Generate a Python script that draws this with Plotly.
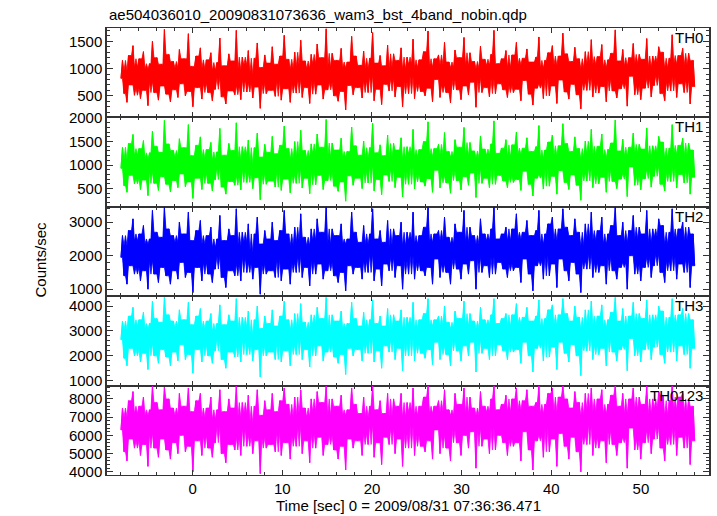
import numpy as np
import plotly.graph_objects as go
from plotly.subplots import make_subplots

t_start, t_end = -8.0, 56.0

th0 = [820, 1150, 540, 960, 380, 1240, 700, 890, 1420, 510, 1030, 640, 1180, 450, 870, 1310, 600, 990, 320, 1090,
       760, 1500, 560, 940, 1200, 420, 830, 1080, 680, 1720, 530, 910, 1260, 390, 780, 1130, 610, 1010, 470, 1350,
       720, 950, 1180, 500, 870, 1640, 580, 1040, 300, 920, 1230, 650, 810, 1380, 440, 1000, 730, 1160, 560, 880,
       1290, 410, 970, 620, 1110, 840, 1560, 480, 760, 1050, 350, 930, 1270, 590, 850, 1140, 520, 1700, 690, 980,
       430, 1210, 800, 1060, 570, 1330, 740, 900, 460, 1190, 660, 1470, 820, 270, 1020, 730, 1250, 540, 960, 1100,
       600, 1400, 870, 490, 1080, 780, 1230, 420, 950, 1610, 630, 860, 1170, 380, 990, 720, 1300, 550, 1040, 810,
       1520, 470, 910, 1140, 650, 1000, 360, 1260, 770, 1090, 530, 1450, 700, 930, 1200, 440, 860, 1730, 610, 1020,
       750, 1280, 500, 960, 1150, 400, 830, 1370, 580, 1010, 240, 1120, 690, 900, 1590, 520, 970, 1230, 650, 840,
       1060, 460, 1320, 780, 1000, 560, 1190, 880, 1660, 410, 940, 1100, 620, 1240, 340, 890, 1050, 710, 1430, 590,
       1010, 820, 1270, 480, 920, 1150, 670, 1380, 300, 990, 760, 1210, 540, 1080, 850, 1540, 450, 1020, 720, 1160,
       580, 930, 1310, 500, 870, 1690, 640, 1030, 390, 1180, 800, 960, 1250, 470, 1070, 700, 1480, 560, 910, 1120,
       370, 1020, 790, 1340, 610, 980, 1200, 430, 880, 1570, 680, 1050, 520, 1290, 750, 940, 1130, 290, 1000, 830,
       1410, 560, 970, 1170, 650, 1060, 480, 1260, 810, 1700, 540, 920, 1090, 720, 1180, 610,
       880, 1330, 470, 1020, 690, 1250, 560, 940, 1480, 620, 1070, 410, 1190, 780, 990, 1360, 530, 860, 1120, 330,
       950, 1210, 640, 1580, 720, 1010, 450, 1150, 830, 1290, 500, 970, 1420, 680, 1060, 360, 1230, 790, 920, 1650,
       570, 1040, 1270, 440, 880, 1130, 710, 1390, 520, 960, 1180, 260, 1000, 760, 1310, 600, 1090, 850, 1530, 480,
       1070, 740, 1220, 550, 930, 1440, 670, 1020, 390, 1160, 810, 1280, 590, 1000, 1710, 460, 890, 1140, 630, 1350,
       740, 1050, 310, 1200, 860, 980, 1460, 520, 1090, 700, 1260, 430, 950, 1170, 640, 1550, 820, 1030, 480, 1230,
       690, 1110, 880, 1400, 540, 970, 1300, 410, 1010, 760, 1190, 590, 1620, 850, 1080, 470, 1240, 720, 940, 1370,
       560, 1060, 800, 1280, 350, 990, 1150, 670]

th1 = [930, 1380, 560, 1120, 420, 1460, 780, 1040, 1650, 600, 1210, 720, 1350, 480, 990, 1520, 680, 1130, 350, 1260,
       860, 1720, 610, 1080, 1400, 460, 940, 1270, 750, 1950, 590, 1030, 1450, 430, 880, 1310, 670, 1170, 520, 1560,
       810, 1090, 1370, 540, 990, 1860, 640, 1200, 290, 1050, 1420, 720, 920, 1600, 480, 1150, 820, 1330, 610, 1000,
       1480, 450, 1110, 690, 1280, 950, 1780, 530, 860, 1210, 380, 1060, 1460, 650, 970, 1310, 570, 1900, 770, 1120,
       470, 1390, 900, 1220, 630, 1530, 830, 1030, 500, 1370, 730, 1680, 930, 260, 1170, 820, 1440, 590, 1100, 1270,
       660, 1610, 990, 530, 1240, 870, 1420, 460, 1080, 1830, 700, 980, 1350, 410, 1130, 800, 1500, 610, 1190, 920,
       1740, 510, 1040, 1310, 720, 1150, 390, 1450, 860, 1250, 580, 1660, 780, 1060, 1380, 480, 980, 1970, 670, 1170,
       840, 1470, 550, 1100, 1320, 440, 940, 1570, 640, 1160, 230, 1290, 770, 1030, 1810, 570, 1110, 1410, 720, 960,
       1210, 500, 1510, 870, 1150, 620, 1370, 1000, 1890, 450, 1080, 1260, 690, 1430, 370, 1010, 1200, 790, 1640, 650,
       1160, 920, 1460, 520, 1050, 1320, 740, 1580, 320, 1130, 850, 1390, 590, 1240, 960, 1760, 490, 1170, 800, 1330,
       640, 1060, 1500, 550, 990, 1920, 710, 1180, 420, 1350, 890, 1100, 1440, 510, 1230, 780, 1690, 620, 1040, 1290,
       400, 1170, 880, 1540, 670, 1120, 1380, 470, 1000, 1800, 750, 1200, 570, 1480, 830, 1070, 1300, 310, 1150, 930,
       1620, 610, 1110, 1340, 720, 1210, 520, 1450, 900, 1940, 590, 1050, 1250, 780, 1360, 660,
       1010, 1540, 520, 1170, 760, 1430, 630, 1080, 1700, 690, 1230, 460, 1360, 870, 1120, 1580, 590, 980, 1290, 340,
       1080, 1390, 720, 1840, 800, 1140, 490, 1320, 930, 1490, 550, 1100, 1640, 760, 1210, 380, 1410, 880, 1050, 1880,
       630, 1190, 1460, 480, 1000, 1290, 790, 1600, 570, 1090, 1350, 250, 1140, 840, 1510, 660, 1240, 950, 1760, 520,
       1220, 820, 1400, 600, 1060, 1660, 740, 1160, 420, 1330, 900, 1470, 650, 1140, 1960, 500, 1010, 1300, 700, 1550,
       820, 1200, 330, 1380, 960, 1110, 1680, 570, 1250, 780, 1440, 470, 1080, 1340, 710, 1790, 910, 1180, 530, 1410,
       760, 1270, 990, 1610, 590, 1100, 1490, 450, 1150, 840, 1360, 650, 1860, 950, 1230, 510, 1420, 800, 1070, 1570,
       620, 1210, 890, 1470, 380, 1130, 1320, 740]

th2 = [1950, 2600, 1400, 2300, 1150, 2750, 1700, 2150, 3100, 1450, 2450, 1650, 2650, 1250, 2050, 2900, 1550, 2350, 1000, 2500,
       1850, 3350, 1450, 2200, 2700, 1200, 2000, 2550, 1650, 3450, 1400, 2150, 2800, 1150, 1900, 2600, 1550, 2400, 1300, 3000,
       1800, 2250, 2650, 1350, 2050, 3300, 1500, 2450, 900, 2150, 2750, 1650, 1950, 3050, 1250, 2350, 1800, 2600, 1450, 2100,
       2850, 1200, 2250, 1600, 2500, 2000, 3200, 1350, 1850, 2450, 1050, 2200, 2800, 1550, 2000, 2600, 1400, 3400, 1750, 2300,
       1250, 2700, 1950, 2400, 1500, 2950, 1800, 2100, 1300, 2650, 1650, 3150, 1950, 850, 2350, 1750, 2750, 1450, 2250, 2500,
       1550, 3000, 2050, 1350, 2450, 1900, 2750, 1250, 2200, 3350, 1600, 2050, 2650, 1150, 2300, 1800, 2850, 1500, 2400, 2000,
       3250, 1350, 2150, 2550, 1650, 2300, 1100, 2800, 1850, 2450, 1450, 3100, 1750, 2200, 2700, 1300, 2050, 3450, 1550, 2350,
       1800, 2800, 1400, 2250, 2600, 1200, 1950, 2950, 1500, 2350, 950, 2500, 1700, 2150, 3300, 1450, 2250, 2700, 1650, 2000,
       2400, 1300, 2900, 1850, 2350, 1500, 2650, 2050, 3400, 1250, 2200, 2500, 1600, 2750, 1100, 2100, 2400, 1750, 3050, 1550,
       2300, 1950, 2800, 1350, 2150, 2600, 1700, 3000, 1000, 2300, 1850, 2700, 1450, 2450, 2000, 3300, 1300, 2350, 1800, 2600,
       1550, 2150, 2850, 1400, 2050, 3450, 1650, 2400, 1150, 2650, 1900, 2250, 2750, 1350, 2450, 1750, 3150, 1500, 2150, 2550,
       1150, 2350, 1900, 2950, 1600, 2300, 2700, 1300, 2050, 3350, 1750, 2400, 1450, 2850, 1850, 2200, 2600, 1000, 2350, 1950,
       3100, 1500, 2250, 2650, 1700, 2450, 1350, 2800, 1950, 3450, 1450, 2150, 2500, 1800, 2650, 1600,
       2050, 2850, 1350, 2450, 1750, 2800, 1550, 2200, 3250, 1650, 2500, 1200, 2700, 1900, 2300, 3050, 1450, 2100, 2600, 950,
       2200, 2750, 1700, 3350, 1850, 2350, 1300, 2650, 2000, 2950, 1400, 2250, 3150, 1750, 2450, 1050, 2800, 1900, 2150, 3400,
       1550, 2400, 2850, 1250, 2100, 2600, 1800, 3100, 1450, 2250, 2700, 900, 2300, 1850, 2950, 1600, 2500, 2050, 3300, 1350,
       2450, 1800, 2750, 1500, 2200, 3150, 1700, 2350, 1150, 2650, 1950, 2900, 1550, 2300, 3450, 1300, 2100, 2600, 1650, 3000,
       1800, 2400, 1000, 2750, 2000, 2250, 3200, 1450, 2500, 1750, 2850, 1250, 2200, 2650, 1650, 3350, 1950, 2400, 1350, 2800,
       1700, 2550, 2050, 3100, 1500, 2250, 2900, 1200, 2350, 1850, 2700, 1550, 3400, 2000, 2500, 1300, 2800, 1750, 2200, 3000,
       1500, 2450, 1900, 2850, 1050, 2300, 2650, 1700]

th3 = [2650, 3400, 1900, 3050, 1600, 3600, 2300, 2850, 3950, 2000, 3200, 2250, 3450, 1750, 2750, 3750, 2100, 3100, 1450, 3300,
       2500, 4200, 2000, 2950, 3500, 1700, 2700, 3350, 2250, 4350, 1950, 2900, 3650, 1600, 2600, 3400, 2150, 3150, 1800, 3850,
       2450, 3000, 3450, 1850, 2800, 4150, 2050, 3250, 1300, 2900, 3600, 2250, 2650, 3900, 1750, 3100, 2450, 3400, 2000, 2850,
       3700, 1700, 3000, 2200, 3300, 2700, 4050, 1850, 2500, 3250, 1500, 2950, 3650, 2150, 2700, 3400, 1950, 4300, 2400, 3050,
       1750, 3550, 2650, 3150, 2050, 3800, 2450, 2850, 1800, 3450, 2250, 4000, 2650, 1150, 3100, 2400, 3600, 2000, 3000, 3300,
       2150, 3850, 2750, 1850, 3200, 2550, 3600, 1750, 2950, 4200, 2200, 2750, 3450, 1600, 3050, 2450, 3700, 2050, 3150, 2700,
       4100, 1850, 2900, 3350, 2250, 3050, 1550, 3650, 2500, 3250, 2000, 3950, 2400, 2950, 3500, 1800, 2750, 4350, 2150, 3100,
       2450, 3650, 1950, 3000, 3400, 1700, 2650, 3800, 2050, 3100, 1250, 3300, 2300, 2900, 4150, 2000, 3000, 3500, 2250, 2700,
       3200, 1800, 3750, 2500, 3100, 2100, 3450, 2750, 4250, 1750, 2950, 3300, 2200, 3600, 1500, 2800, 3200, 2400, 3900, 2150,
       3050, 2650, 3650, 1850, 2900, 3400, 2300, 3850, 1400, 3050, 2500, 3550, 2000, 3250, 2700, 4150, 1800, 3100, 2450, 3450,
       2100, 2900, 3700, 1900, 2750, 4300, 2250, 3200, 1650, 3450, 2550, 3000, 3600, 1850, 3250, 2400, 4000, 2050, 2900, 3350,
       1600, 3100, 2600, 3800, 2200, 3050, 3500, 1800, 2800, 4200, 2400, 3200, 2000, 3700, 2550, 2950, 3400, 1350, 3100, 2650,
       3950, 2100, 3000, 3450, 2300, 3250, 1850, 3650, 2650, 4300, 2000, 2900, 3300, 2450, 3500, 2200,
       2750, 3700, 1850, 3200, 2400, 3650, 2150, 2950, 4100, 2250, 3300, 1700, 3550, 2550, 3050, 3950, 2000, 2850, 3400, 1350,
       2950, 3600, 2300, 4250, 2500, 3150, 1800, 3500, 2700, 3850, 1950, 3000, 4050, 2350, 3250, 1450, 3650, 2550, 2900, 4300,
       2100, 3150, 3700, 1750, 2850, 3400, 2450, 4000, 2000, 3000, 3550, 1200, 3100, 2500, 3850, 2200, 3300, 2750, 4200, 1850,
       3250, 2450, 3600, 2050, 2950, 4050, 2300, 3150, 1600, 3450, 2650, 3750, 2150, 3050, 4350, 1800, 2850, 3400, 2250, 3900,
       2450, 3200, 1400, 3600, 2700, 3000, 4150, 2000, 3300, 2400, 3700, 1750, 2950, 3500, 2250, 4250, 2650, 3200, 1850, 3650,
       2350, 3350, 2750, 4000, 2050, 3000, 3800, 1700, 3100, 2500, 3550, 2150, 4300, 2700, 3300, 1800, 3650, 2400, 2950, 3900,
       2050, 3250, 2600, 3700, 1500, 3050, 3450, 2300]

th0123 = [6300, 7500, 5100, 7000, 4600, 7900, 5800, 6700, 8400, 5300, 7200, 5700, 7600, 4900, 6500, 8100, 5500, 7100, 4300, 7400,
          6100, 8700, 5300, 6800, 7800, 4800, 6400, 7400, 5800, 8650, 5200, 6800, 8000, 4700, 6200, 7500, 5600, 7100, 5000, 8300,
          6000, 6900, 7600, 5100, 6600, 8600, 5400, 7300, 4000, 6800, 7900, 5700, 6400, 8300, 4900, 7000, 6000, 7500, 5300, 6700,
          8100, 4800, 6900, 5600, 7400, 6500, 8500, 5000, 6100, 7300, 4500, 6800, 8000, 5500, 6500, 7500, 5200, 8700, 5900, 7000,
          4900, 7800, 6400, 7200, 5400, 8200, 6000, 6700, 5000, 7600, 5700, 8500, 6400, 3900, 7100, 5900, 7900, 5300, 6900, 7400,
          5500, 8300, 6600, 5100, 7300, 6200, 7900, 4900, 6900, 8600, 5600, 6600, 7700, 4700, 7000, 6000, 8100, 5400, 7100, 6500,
          8500, 5000, 6800, 7500, 5700, 7000, 4500, 8000, 6100, 7300, 5300, 8400, 5900, 6800, 7800, 4900, 6600, 8700, 5500, 7100,
          6000, 8000, 5200, 6900, 7600, 4700, 6400, 8200, 5400, 7100, 4100, 7400, 5800, 6800, 8600, 5300, 6900, 7700, 5700, 6500,
          7200, 4900, 8100, 6100, 7000, 5500, 7600, 6600, 8700, 4800, 6800, 7400, 5600, 7900, 4400, 6700, 7200, 5900, 8300, 5500,
          7000, 6400, 8000, 5000, 6800, 7600, 5800, 8300, 4300, 7000, 6100, 7800, 5300, 7300, 6500, 8600, 4900, 7100, 6000, 7600,
          5400, 6900, 8100, 5100, 6600, 8700, 5700, 7200, 4700, 7600, 6300, 6900, 7900, 5000, 7300, 6000, 8500, 5300, 6800, 7400,
          4600, 7100, 6300, 8300, 5600, 7000, 7700, 4900, 6700, 8600, 6000, 7200, 5300, 8100, 6200, 6800, 7500, 4200, 7100, 6400,
          8400, 5400, 6900, 7600, 5800, 7300, 5000, 8000, 6400, 8700, 5200, 6800, 7400, 6000, 7700, 5600,
          6500, 8200, 4900, 7300, 5800, 8000, 5400, 6900, 8600, 5600, 7400, 4600, 7900, 6200, 7000, 8500, 5200, 6700, 7600, 4100,
          6900, 7800, 5700, 8700, 6000, 7200, 4800, 7700, 6400, 8300, 5100, 7000, 8600, 5800, 7300, 4300, 8100, 6100, 6800, 8700,
          5400, 7200, 8000, 4700, 6700, 7500, 5900, 8400, 5100, 6900, 7800, 4000, 7100, 6000, 8300, 5500, 7400, 6600, 8600, 4900,
          7300, 5900, 8000, 5300, 6900, 8500, 5700, 7200, 4500, 7700, 6300, 8200, 5500, 7100, 8700, 4900, 6700, 7600, 5600, 8300,
          5900, 7200, 4200, 8000, 6400, 6900, 8600, 5200, 7400, 5800, 8100, 4700, 6900, 7700, 5600, 8700, 6300, 7200, 5000, 8000,
          5800, 7500, 6500, 8400, 5300, 7000, 8200, 4600, 7100, 6000, 7900, 5500, 8700, 6400, 7400, 4900, 8100, 5900, 6800, 8300,
          5300, 7300, 6200, 8000, 4400, 7000, 7600, 5700]

names = ["TH0", "TH1", "TH2", "TH3", "TH0123"]
series = [th0, th1, th2, th3, th0123]
colors = ["#ff0000", "#00ff00", "#0000ff", "#00ffff", "#ff00ff"]
y_ranges = [[103, 1745], [110, 2015], [790, 3460], [800, 4400], [3825, 8730]]
y_dticks = [500, 500, 1000, 1000, 1000]
y_minor = [100, 100, 200, 200, 200]

FONT = "Liberation Sans, Arial, Helvetica, sans-serif"
AX = "#333333"

fig = make_subplots(rows=5, cols=1, shared_xaxes=True, vertical_spacing=0)


def shifted(a, s):
    # a shifted by s bins, edges padded with the end values
    if s > 0:
        return np.concatenate([np.repeat(a[:1], s), a[:-s]])
    return np.concatenate([a[-s:], np.repeat(a[-1:], -s)])


for i, (name, vals, col) in enumerate(zip(names, series, colors)):
    v = np.asarray(vals, dtype=float)
    t = np.linspace(t_start, t_end, len(v))
    # shade the dense band the light curve sweeps through: the upper edge is raised to the lower of
    # the highest bins just left / just right (a closing), the lower edge mirrored; isolated spikes stay thin
    left_hi = np.maximum(shifted(v, 1), shifted(v, 2))
    right_hi = np.maximum(shifted(v, -1), shifted(v, -2))
    left_lo = np.minimum(shifted(v, 1), shifted(v, 2))
    right_lo = np.minimum(shifted(v, -1), shifted(v, -2))
    upper = np.maximum(v, np.minimum(left_hi, right_hi))
    lower = np.minimum(v, np.maximum(left_lo, right_lo))
    fig.add_trace(go.Scatter(x=t, y=upper, mode="lines",
                             line=dict(color=col, width=0.8, simplify=False),
                             showlegend=False, hoverinfo="skip"), row=i + 1, col=1)
    fig.add_trace(go.Scatter(x=t, y=lower, mode="lines", fill="tonexty", fillcolor=col,
                             line=dict(color=col, width=0.8, simplify=False),
                             showlegend=False, hoverinfo="skip"), row=i + 1, col=1)
    fig.add_trace(go.Scatter(x=t, y=v, mode="lines",
                             line=dict(color=col, width=1, simplify=False),
                             showlegend=False, hoverinfo="skip"), row=i + 1, col=1)
    fig.update_yaxes(range=y_ranges[i], dtick=y_dticks[i], tick0=0, ticks="inside", ticklen=6,
                     mirror="ticks", showline=True, linecolor=AX, linewidth=1.5,
                     showgrid=False, zeroline=False, tickcolor=AX, tickwidth=1,
                     minor=dict(dtick=y_minor[i], tick0=0, ticks="inside", ticklen=3,
                                tickcolor=AX, tickwidth=1),
                     tickfont=dict(family=FONT, size=15, color="black"),
                     row=i + 1, col=1)
    fig.update_xaxes(range=[-9.56, 57.6], dtick=10, tick0=0, ticks="inside", ticklen=5,
                     mirror="ticks", showline=True, linecolor=AX, linewidth=1,
                     showgrid=False, zeroline=False, tickcolor=AX, tickwidth=1,
                     minor=dict(dtick=2, tick0=0, ticks="inside", ticklen=3,
                                tickcolor=AX, tickwidth=1),
                     tickfont=dict(family=FONT, size=15, color="black"),
                     showticklabels=(i == 4),
                     row=i + 1, col=1)
    yref = "y domain" if i == 0 else f"y{i + 1} domain"
    fig.add_annotation(text=name, xref="paper", x=1, xanchor="right", xshift=-4,
                       yref=yref, y=1, yanchor="top", yshift=1, showarrow=False,
                       font=dict(family=FONT, size=15, color="black"))

fig.add_annotation(text="ae504036010_20090831073636_wam3_bst_4band_nobin.qdp",
                   xref="paper", x=0, xanchor="left", yref="paper", y=1, yanchor="bottom",
                   yshift=3, showarrow=False, font=dict(family=FONT, size=15, color="black"))
fig.add_annotation(text="Counts/sec", xref="paper", x=0, xshift=-67, xanchor="center",
                   yref="paper", y=0.5, yshift=-8, yanchor="middle",
                   textangle=-90, showarrow=False, font=dict(family=FONT, size=15, color="black"))
fig.add_annotation(text="Time [sec] 0 = 2009/08/31 07:36:36.471", xref="paper", x=0.5,
                   yref="paper", y=0, yshift=-30, yanchor="middle", showarrow=False,
                   font=dict(family=FONT, size=15, color="black"))

fig.update_layout(width=717, height=516, margin=dict(l=107, r=6, t=28, b=41),
                  paper_bgcolor="white", plot_bgcolor="white",
                  font=dict(family=FONT, size=15, color="black"))

fig.write_html("out.html", config={"displayModeBar": False},
               post_script="document.body.style.margin='0';")
